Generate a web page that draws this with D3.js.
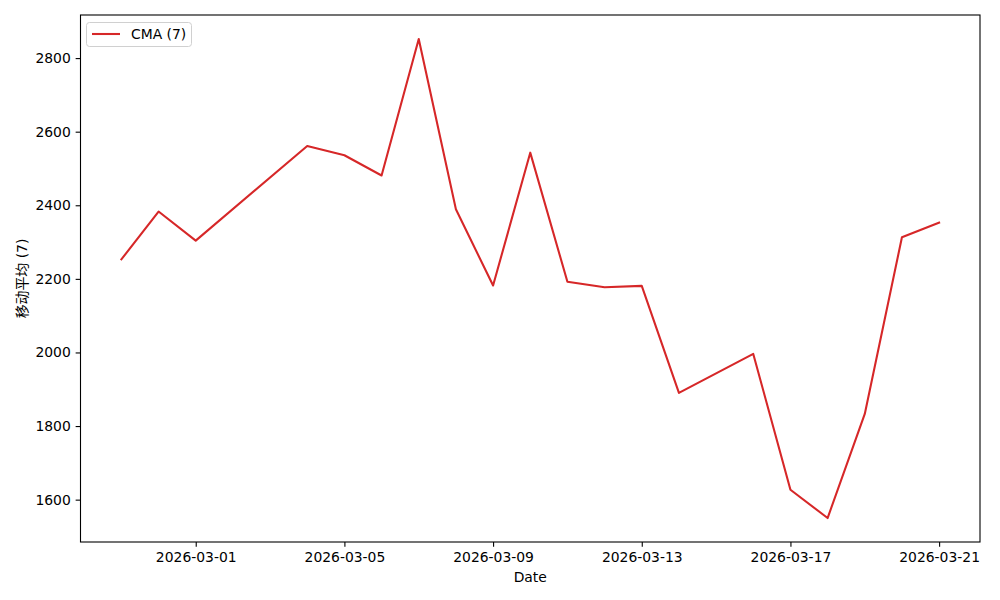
<!DOCTYPE html>
<html>
<head>
<meta charset="utf-8">
<script src="https://cdn.jsdelivr.net/npm/d3@7"></script>
<style>
  body { margin: 0; background: #fff; }
  svg { display: block; }
  text { font-family: "DejaVu Sans", sans-serif; }
</style>
</head>
<body>
<svg id="chart" width="1000" height="600"></svg>
<script>
// Data (dates with no entry are simply joined by the line)
const dates = ["2026-02-27","2026-02-28","2026-03-01","2026-03-04","2026-03-05","2026-03-06",
  "2026-03-07","2026-03-08","2026-03-09","2026-03-10","2026-03-11","2026-03-12","2026-03-13",
  "2026-03-14","2026-03-16","2026-03-17","2026-03-18","2026-03-19","2026-03-20","2026-03-21"];
const cmaValues = [2253, 2383, 2304, 2561, 2536, 2481,
  2852, 2389, 2182, 2543, 2192, 2177, 2181,
  1890, 1996, 1627, 1550, 1833, 2313, 2353];
const yTicks = [1600, 1800, 2000, 2200, 2400, 2600, 2800];
const xTickLabels = ["2026-03-01","2026-03-05","2026-03-09","2026-03-13","2026-03-17","2026-03-21"];
const seriesName = "CMA (7)";
const xLabel = "Date";
const yLabel = "移动平均 (7)";

const parse = d3.utcParse("%Y-%m-%d");
const fmt = d3.utcFormat("%Y-%m-%d");
const data = dates.map((d, i) => ({ date: parse(d), value: cmaValues[i] }));

const svg = d3.select("#chart");
const mLeft = 80.5, mRight = 980, mTop = 15, mBottom = 542;
const fontSize = 13.9;
const color = "#d62728";

const dMin = d3.min(data, d => d.date), dMax = d3.max(data, d => d.date);
const span = dMax - dMin;
const x = d3.scaleUtc()
  .domain([new Date(+dMin - span * 0.05), new Date(+dMax + span * 0.05)])
  .range([mLeft, mRight]);

const vMin = d3.min(cmaValues), vMax = d3.max(cmaValues);
const vPad = (vMax - vMin) * 0.05;
const y = d3.scaleLinear()
  .domain([vMin - vPad, vMax + vPad])
  .range([mBottom, mTop]);

// Line
const line = d3.line().x(d => x(d.date)).y(d => y(d.value));
svg.append("path")
  .datum(data)
  .attr("d", line)
  .attr("fill", "none")
  .attr("stroke", color)
  .attr("stroke-width", 2.08)
  .attr("stroke-linejoin", "round")
  .attr("stroke-linecap", "square");

// Axes
const xAxis = d3.axisBottom(x)
  .tickValues(xTickLabels.map(parse))
  .tickFormat(fmt)
  .tickSizeInner(4.86).tickSizeOuter(0).tickPadding(4.86);
const gx = svg.append("g").attr("transform", `translate(0,${mBottom})`).call(xAxis);

const yAxis = d3.axisLeft(y)
  .tickValues(yTicks)
  .tickFormat(d3.format("d"))
  .tickSizeInner(4.86).tickSizeOuter(0).tickPadding(4.86);
const gy = svg.append("g").attr("transform", `translate(${mLeft},0)`).call(yAxis);

[gx, gy].forEach(g => {
  g.select(".domain").remove();
  g.selectAll(".tick line").attr("stroke", "#000").attr("stroke-width", 1.1);
  g.selectAll(".tick text")
    .attr("fill", "#000")
    .style("font-size", fontSize + "px")
    .style("font-family", "'DejaVu Sans', sans-serif");
});

// Frame
svg.append("rect")
  .attr("x", mLeft).attr("y", mTop)
  .attr("width", mRight - mLeft).attr("height", mBottom - mTop)
  .attr("fill", "none").attr("stroke", "#000").attr("stroke-width", 1.1);

// Axis labels
svg.append("text")
  .attr("x", (mLeft + mRight) / 2).attr("y", 582)
  .attr("text-anchor", "middle")
  .style("font-size", fontSize + "px")
  .text(xLabel);
svg.append("text")
  .attr("transform", `translate(27,${(mTop + mBottom) / 2}) rotate(-90)`)
  .attr("text-anchor", "middle")
  .style("font-size", fontSize + "px")
  .style("font-family", "'DejaVu Sans', 'Noto Sans CJK SC', sans-serif")
  .text(yLabel);

// Legend
const lg = svg.append("g");
lg.append("rect")
  .attr("x", 86.5).attr("y", 22.5).attr("width", 105).attr("height", 24)
  .attr("rx", 3).attr("fill", "#fff").attr("fill-opacity", 0.8)
  .attr("stroke", "#d0d0d0").attr("stroke-width", 1);
lg.append("line")
  .attr("x1", 92).attr("x2", 120).attr("y1", 34).attr("y2", 34)
  .attr("stroke", color).attr("stroke-width", 2.08);
lg.append("text")
  .attr("x", 131).attr("y", 39)
  .style("font-size", fontSize + "px")
  .text(seriesName);
</script>
</body>
</html>
